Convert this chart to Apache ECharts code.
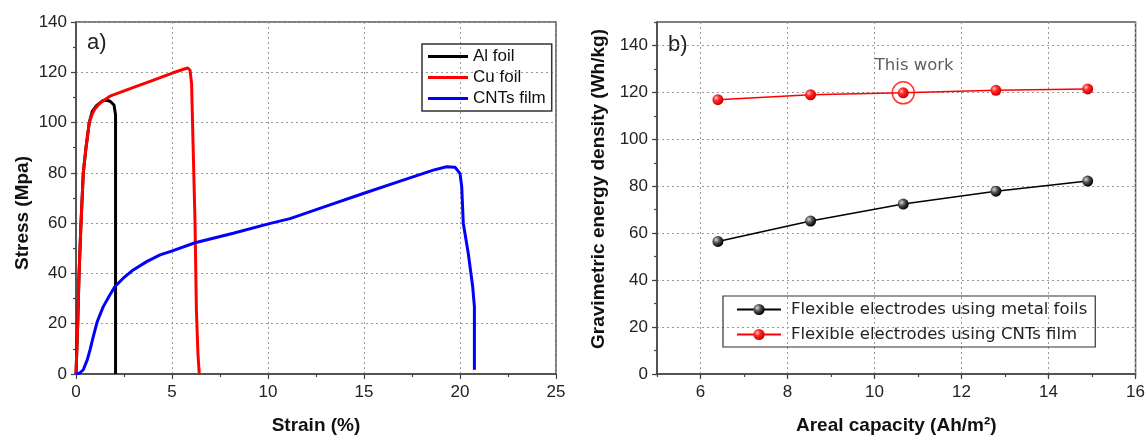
<!DOCTYPE html>
<html>
<head>
<meta charset="utf-8">
<title>Stress-strain / energy density</title>
<script src="https://cdn.jsdelivr.net/npm/echarts@6/dist/echarts.min.js"></script>
<style>
html, body { margin: 0; padding: 0; background: #fff; }
#main { width: 1148px; height: 442px; }
</style>
</head>
<body>
<div id="main"></div>
<script>
// a) 应力-应变曲线
var alStrain = [0, 0.09, 0.16, 0.26, 0.38, 0.52, 0.69, 0.85, 1.08, 1.41, 1.6, 1.77, 1.98, 2.04, 2.06, 2.06];
var alStress = [0, 20, 40, 60, 80, 90, 100, 104.5, 106.8, 108.8, 108.9, 108.5, 107, 104, 103, 0];

var cuStrain = [0, 0.09, 0.16, 0.26, 0.38, 0.52, 0.69, 0.85, 0.99, 1.25, 1.77, 3.0, 4.0, 5.02, 5.6, 5.82, 5.94, 6.02, 6.11, 6.2, 6.27, 6.35, 6.42];
var cuStress = [0, 20, 40, 60, 80, 90, 100, 103.5, 105.5, 107.8, 110.5, 114, 116.8, 119.7, 121.2, 121.7, 120.8, 115.5, 87.7, 60, 25.5, 8.3, 0];

var cntStrain = [0, 0.2, 0.38, 0.59, 0.73, 0.9, 1.11, 1.42, 1.77, 2.03, 2.46, 2.98, 3.68, 4.38, 4.98, 6.2, 8.19, 10.02, 11.15, 13, 14.96, 17, 18.61, 19.3, 19.74, 20.0, 20.09, 20.17, 20.43, 20.66, 20.75, 20.75];
var cntStress = [0, 0.4, 1.7, 5.7, 9.6, 14.9, 20.9, 26.8, 31.5, 34.8, 38.1, 41.4, 44.7, 47.4, 48.9, 52.2, 56, 59.7, 61.8, 66.7, 71.8, 77, 81.1, 82.4, 82.2, 79.8, 74.5, 60, 48, 34.8, 26.8, 1.7];

var curveNames = ['Al foil', 'Cu foil', 'CNTs film'];

// b) 能量密度
var capacity = [6.4, 8.53, 10.66, 12.79, 14.9];
var metalFoil = [56.5, 65.2, 72.4, 77.9, 82.2];
var cntFilm = [116.9, 119.0, 119.8, 120.9, 121.5];
var thisWorkIndex = 2;
var energyNames = ['Flexible electrodes using metal foils', 'Flexible electrodes using CNTs film'];

var capacityTicks = [6, 8, 10, 12, 14, 16];
var energyTicks = [0, 20, 40, 60, 80, 100, 120, 140];

function pairs(xs, ys) {
    var out = [];
    for (var i = 0; i < xs.length; i++) {
        out.push([xs[i], ys[i]]);
    }
    return out;
}

var chart = echarts.init(document.getElementById('main'));

var axisColor = '#444';
var nameStyle = { fontFamily: 'Liberation Sans', fontSize: 19, fontWeight: 'bold', color: '#111' };
var labelStyle = { color: '#222', fontSize: 17, fontFamily: 'Liberation Sans' };
var dotted = { show: true, lineStyle: { color: '#999', type: [2, 3], width: 1 } };

var blackBall = new echarts.graphic.RadialGradient(0.35, 0.35, 0.65, [
    { offset: 0, color: '#d8d8d8' }, { offset: 0.45, color: '#555' }, { offset: 1, color: '#000' }
]);
var redBall = new echarts.graphic.RadialGradient(0.35, 0.35, 0.65, [
    { offset: 0, color: '#ffc8c8' }, { offset: 0.4, color: '#ff2a2a' }, { offset: 1, color: '#d00000' }
]);

var option = {
    animation: false,
    backgroundColor: '#fff',
    grid: [
        { left: 76, top: 22, width: 480, height: 352, show: true, borderColor: '#555', borderWidth: 1.5, backgroundColor: 'transparent' },
        { left: 657, top: 22, width: 480, height: 352, show: true, borderColor: '#555', borderWidth: 1.5, backgroundColor: 'transparent' }
    ],
    graphic: [
        { type: 'text', left: 87, top: 32, style: { text: 'a)', fontSize: 22, fontFamily: 'Liberation Sans', fill: '#222' } },
        { type: 'text', left: 668, top: 34, style: { text: 'b)', fontSize: 22, fontFamily: 'Liberation Sans', fill: '#222' } }
    ],
    legend: [
        {
            left: 422, top: 44, orient: 'vertical',
            data: curveNames,
            icon: 'rect', itemWidth: 40, itemHeight: 3, itemGap: 4,
            padding: [4, 6, 4, 6],
            borderColor: '#333', borderWidth: 1.5,
            textStyle: { fontFamily: 'Liberation Sans', fontSize: 17, color: '#111' }
        },
        {
            left: 723, top: 296, orient: 'vertical',
            data: energyNames,
            itemWidth: 44, itemHeight: 14, itemGap: 8,
            padding: [5, 8, 4, 13],
            borderColor: '#333', borderWidth: 1.2,
            textStyle: { fontFamily: 'DejaVu Sans', fontSize: 16.5, color: '#222', padding: [0, 0, 0, 5] }
        }
    ],
    xAxis: [
        {
            gridIndex: 0, type: 'value', min: 0, max: 25, interval: 5,
            name: 'Strain (%)', nameLocation: 'middle', nameGap: 42, nameTextStyle: nameStyle,
            axisLine: { show: true, onZero: false, lineStyle: { color: axisColor, width: 1.5 } },
            axisTick: { show: true, length: 5, lineStyle: { color: axisColor, width: 1.2 } },
            minorTick: { show: true, splitNumber: 2, length: 3, lineStyle: { color: axisColor, width: 1.2 } },
            axisLabel: Object.assign({ margin: 10 }, labelStyle),
            splitLine: dotted
        },
        {
            gridIndex: 1, type: 'value', min: 5, max: 16, interval: 1, position: 'bottom',
            name: 'Areal capacity (Ah/m²)', nameLocation: 'middle', nameGap: 42, nameTextStyle: nameStyle,
            axisLine: { show: true, onZero: false, lineStyle: { color: axisColor, width: 1.5 } },
            axisTick: { show: true, length: 5, customValues: capacityTicks, lineStyle: { color: axisColor, width: 1.2 } },
            axisLabel: Object.assign({ margin: 10, customValues: capacityTicks }, labelStyle),
            splitLine: dotted
        },
        {
            // 次刻度
            gridIndex: 1, type: 'value', min: 5, max: 16, interval: 1, position: 'bottom',
            axisLine: { show: false },
            axisTick: { show: true, length: 3, lineStyle: { color: axisColor, width: 1.2 } },
            axisLabel: { show: false },
            splitLine: { show: false }
        }
    ],
    yAxis: [
        {
            gridIndex: 0, type: 'value', min: 0, max: 140, interval: 20,
            name: 'Stress (Mpa)', nameLocation: 'middle', nameGap: 44,
            nameTextStyle: Object.assign({ padding: [0, 30, 0, 0] }, nameStyle),
            axisLine: { show: true, onZero: false, lineStyle: { color: axisColor, width: 1.5 } },
            axisTick: { show: true, length: 5, lineStyle: { color: axisColor, width: 1.2 } },
            minorTick: { show: true, splitNumber: 2, length: 3, lineStyle: { color: axisColor, width: 1.2 } },
            axisLabel: Object.assign({ margin: 9 }, labelStyle),
            splitLine: dotted
        },
        {
            gridIndex: 1, type: 'value', min: 0, max: 150, interval: 10, position: 'left',
            name: 'Gravimetric energy density (Wh/kg)', nameLocation: 'middle', nameGap: 49,
            nameTextStyle: Object.assign({ padding: [0, 0, 0, 18] }, nameStyle),
            axisLine: { show: true, onZero: false, lineStyle: { color: axisColor, width: 1.5 } },
            axisTick: { show: true, length: 5, customValues: energyTicks, lineStyle: { color: axisColor, width: 1.2 } },
            axisLabel: Object.assign({ margin: 9, customValues: energyTicks }, labelStyle),
            splitLine: dotted
        },
        {
            gridIndex: 1, type: 'value', min: 0, max: 150, interval: 10, position: 'left',
            axisLine: { show: false },
            axisTick: { show: true, length: 3, lineStyle: { color: axisColor, width: 1.2 } },
            axisLabel: { show: false },
            splitLine: { show: false }
        }
    ],
    series: [
        {
            type: 'line', name: curveNames[0], xAxisIndex: 0, yAxisIndex: 0,
            data: pairs(alStrain, alStress), symbol: 'none',
            lineStyle: { color: '#000', width: 3 }, itemStyle: { color: '#000' }
        },
        {
            type: 'line', name: curveNames[1], xAxisIndex: 0, yAxisIndex: 0,
            data: pairs(cuStrain, cuStress), symbol: 'none',
            lineStyle: { color: '#ff0000', width: 3 }, itemStyle: { color: '#ff0000' }
        },
        {
            type: 'line', name: curveNames[2], xAxisIndex: 0, yAxisIndex: 0,
            data: pairs(cntStrain, cntStress), symbol: 'none',
            lineStyle: { color: '#0000ff', width: 3 }, itemStyle: { color: '#0000ff' }
        },
        {
            type: 'line', name: energyNames[0], xAxisIndex: 1, yAxisIndex: 1,
            data: pairs(capacity, metalFoil), symbol: 'circle', symbolSize: 11,
            lineStyle: { color: '#000', width: 1.5 }, itemStyle: { color: blackBall }
        },
        {
            type: 'line', name: energyNames[1], xAxisIndex: 1, yAxisIndex: 1,
            data: pairs(capacity, cntFilm), symbol: 'circle', symbolSize: 11,
            lineStyle: { color: '#ff0000', width: 1.5 }, itemStyle: { color: redBall }
        },
        {
            // This work 标记圈
            type: 'scatter', name: 'thisWork', xAxisIndex: 1, yAxisIndex: 1, silent: true, z: 5,
            data: [[capacity[thisWorkIndex], cntFilm[thisWorkIndex]]],
            symbolSize: 22,
            itemStyle: { color: 'rgba(0,0,0,0)', borderColor: '#ff0000', borderWidth: 1.5 },
            label: {
                show: true, position: 'top', distance: 7, offset: [11, 0],
                formatter: 'This work', fontFamily: 'DejaVu Sans', fontSize: 16.5, color: '#333'
            }
        }
    ]
};

chart.setOption(option);

window.onresize = function () {
    chart.resize();
};
</script>
</body>
</html>
